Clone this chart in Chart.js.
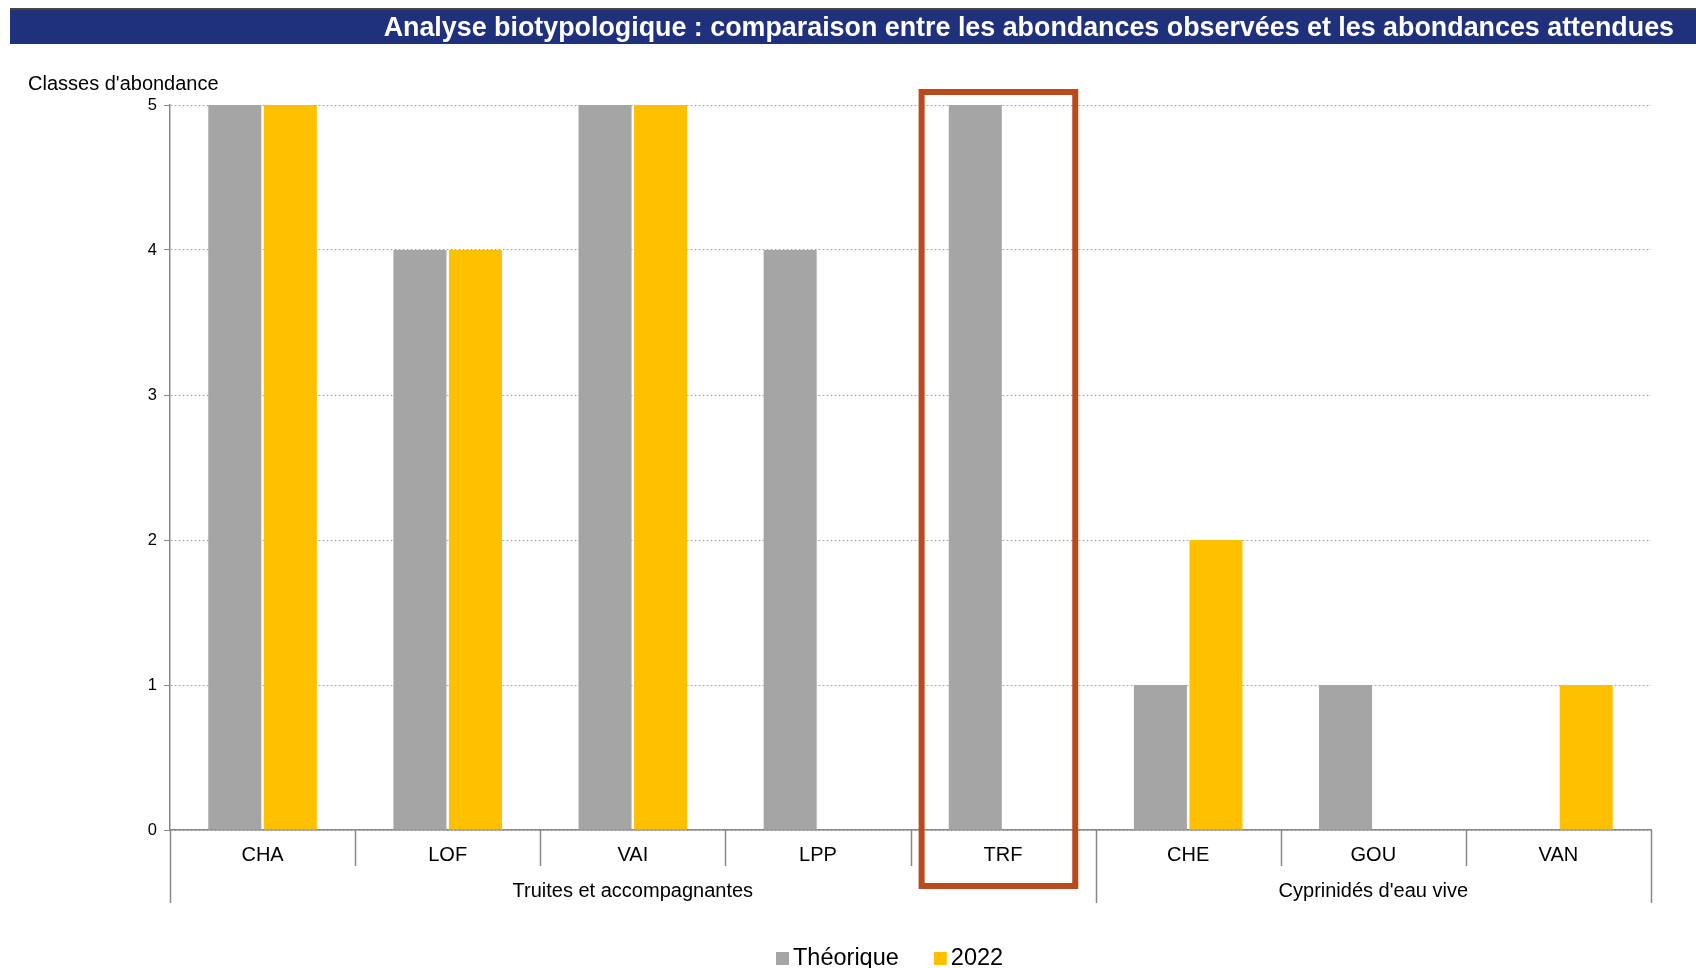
<!DOCTYPE html>
<html>
<head>
<meta charset="utf-8">
<title>Analyse biotypologique</title>
<script src="https://cdn.jsdelivr.net/npm/chart.js@4"></script>
<style>
  body { margin: 0; background: #fff; }
  #wrap { width: 1696px; height: 968px; }
</style>
</head>
<body>
<div id="wrap"><canvas id="chart" width="1696" height="968"></canvas></div>
<script>
// data
const categories = ['CHA', 'LOF', 'VAI', 'LPP', 'TRF', 'CHE', 'GOU', 'VAN'];
const theorique = [5, 4, 5, 4, 5, 1, 1, 0];
const obs2022 = [5, 4, 5, 0, 0, 2, 0, 1];
const groupLabels = ['Truites et accompagnantes', "Cyprinidés d'eau vive"];
const groupSizes = [5, 3];
const highlighted = 'TRF';
const yTicks = [0, 1, 2, 3, 4, 5];

const title = 'Analyse biotypologique : comparaison entre les abondances observées et les abondances attendues';
const yTitle = "Classes d'abondance";

const FONT = '"Liberation Sans", Arial, sans-serif';
Chart.defaults.font.family = FONT;

const decorations = {
  id: 'decorations',
  afterDraw(chart) {
    const ctx = chart.ctx;
    const x = chart.scales.x, y = chart.scales.y;
    const area = chart.chartArea;
    ctx.save();

    // title bar
    ctx.fillStyle = '#1F317D';
    ctx.fillRect(10, 10, chart.width - 10, 34);
    ctx.fillStyle = '#444';
    ctx.fillRect(10, 8, chart.width - 10, 2);
    ctx.fillStyle = '#fff';
    ctx.font = 'bold 26.85px ' + FONT;
    ctx.textAlign = 'right';
    ctx.textBaseline = 'middle';
    ctx.fillText(title, 1674, 29);

    // y axis title
    ctx.fillStyle = '#000';
    ctx.font = '20px ' + FONT;
    ctx.textAlign = 'left';
    ctx.fillText(yTitle, 28, 84);

    // category / group separators
    const w = x.getPixelForValue(1) - x.getPixelForValue(0);
    const start = x.getPixelForValue(0) - w / 2;
    const groupEdges = [0];
    groupSizes.reduce((s, n) => { groupEdges.push(s + n); return s + n; }, 0);
    ctx.strokeStyle = '#888';
    ctx.lineWidth = 1.5;
    for (let i = 0; i <= categories.length; i++) {
      const bx = Math.round(start + i * w) + 0.5;
      const long = groupEdges.includes(i);
      ctx.beginPath();
      ctx.moveTo(bx, area.bottom);
      ctx.lineTo(bx, area.bottom + (long ? 73 : 36));
      ctx.stroke();
    }

    // group labels
    ctx.fillStyle = '#000';
    ctx.font = '20px ' + FONT;
    ctx.textAlign = 'center';
    for (let g = 0; g < groupLabels.length; g++) {
      const cx = start + (groupEdges[g] + groupEdges[g + 1]) / 2 * w;
      ctx.fillText(groupLabels[g], cx, area.bottom + 61);
    }

    // highlight box around one category
    const hi = categories.indexOf(highlighted);
    const hl = start + hi * w;
    ctx.strokeStyle = '#B84A1E';
    ctx.lineWidth = 6;
    ctx.strokeRect(hl + 0.06 * w, y.getPixelForValue(5) - 13, 0.83 * w, (area.bottom + 56) - (y.getPixelForValue(5) - 13));

    // legend
    const items = chart.data.datasets.map(d => ({ label: d.label, color: d.backgroundColor }));
    ctx.font = '23.5px ' + FONT;
    ctx.textAlign = 'left';
    let lx = 776;
    const ly = 959;
    items.forEach(it => {
      ctx.fillStyle = it.color;
      ctx.fillRect(lx, ly - 7, 13, 13);
      ctx.fillStyle = '#000';
      ctx.fillText(it.label, lx + 17, ly);
      lx += 17 + ctx.measureText(it.label).width + 35;
    });

    ctx.restore();
  }
};

new Chart(document.getElementById('chart'), {
  type: 'bar',
  data: {
    labels: categories,
    datasets: [
      { label: 'Théorique', data: theorique, backgroundColor: '#A5A5A5', borderWidth: 0,
        categoryPercentage: 0.6, barPercentage: 0.955 },
      { label: '2022', data: obs2022, backgroundColor: '#FFC000', borderWidth: 0,
        categoryPercentage: 0.6, barPercentage: 0.955 }
    ]
  },
  options: {
    responsive: false,
    animation: false,
    layout: { padding: { top: 105, right: 45, left: 0, bottom: 0 } },
    plugins: { legend: { display: false }, tooltip: { enabled: false } },
    scales: {
      x: {
        grid: { display: false },
        border: { color: '#888', width: 1.5 },
        ticks: { color: '#000', font: { size: 20 }, padding: 5 },
        afterFit: s => { s.height = 138; }
      },
      y: {
        min: 0, max: 5,
        afterBuildTicks: s => { s.ticks = yTicks.map(v => ({ value: v })); },
        ticks: { color: '#000', font: { size: 16.5 }, padding: 7 },
        grid: { color: '#aaa', tickColor: '#888', tickLength: 6, lineWidth: 1 },
        border: { dash: [2, 2], color: '#888', width: 1.5 },
        afterFit: s => { s.width = 170; }
      }
    }
  },
  plugins: [decorations]
});
</script>
</body>
</html>
